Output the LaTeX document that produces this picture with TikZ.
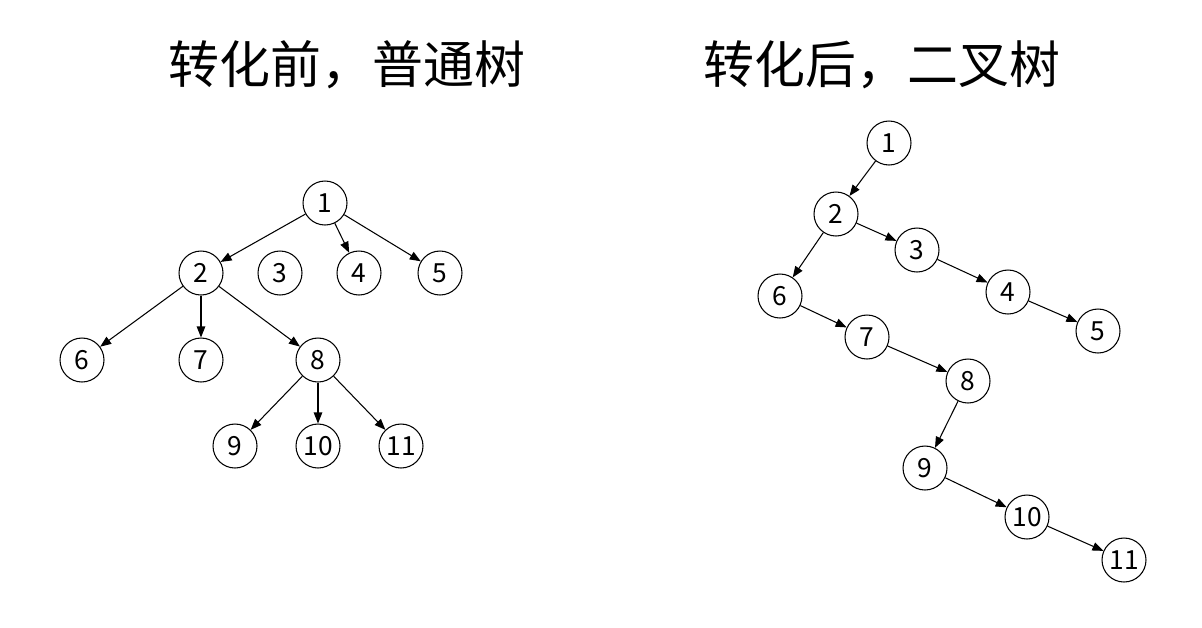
\documentclass[tikz,border=0pt]{standalone}
\usepackage{fontspec}
\setmainfont{Noto Sans CJK SC}
\newfontfamily\cjk{Noto Sans CJK SC}
\usetikzlibrary{arrows.meta}

\begin{document}
\begin{tikzpicture}[
  x=0.02cm, y=-0.02cm,
  vtx/.style={circle, draw=black, line width=0.6pt, minimum size=0.88cm,
              inner sep=0pt, font=\fontsize{15}{17}\selectfont},
  ttl/.style={font=\cjk\fontsize{29}{33}\selectfont},
  arr/.style={-{Triangle[length=2.2mm,width=1.7mm]}, line width=0.6pt, black}
]
\useasboundingbox (0,0) rectangle (1202,627);

% Titles
\node[ttl] (ltitle) at (347,65) {转化前，普通树};
\node[ttl] (rtitle) at (882,65) {转化后，二叉树};

% Ordinary tree (left)
\node[vtx] (a1)  at (325,203) {1};
\node[vtx] (a2)  at (201,273) {2};
\node[vtx] (a3)  at (280,273) {3};
\node[vtx] (a4)  at (359,273) {4};
\node[vtx] (a5)  at (440,273) {5};
\node[vtx] (a6)  at (82,360)  {6};
\node[vtx] (a7)  at (201,360) {7};
\node[vtx] (a8)  at (318,360) {8};
\node[vtx] (a9)  at (235,446) {9};
\node[vtx] (a10) at (318,446) {10};
\node[vtx] (a11) at (401,446) {11};

\draw[arr] (a1) -- (a2);
\draw[arr] (a1) -- (a4);
\draw[arr] (a1) -- (a5);
\draw[arr] (a2) -- (a6);
\draw[arr] (a2) -- (a7);
\draw[arr] (a2) -- (a8);
\draw[arr] (a8) -- (a9);
\draw[arr] (a8) -- (a10);
\draw[arr] (a8) -- (a11);

% Binary tree (right)
\node[vtx] (b1)  at (889,143)  {1};
\node[vtx] (b2)  at (836,214)  {2};
\node[vtx] (b3)  at (917,250)  {3};
\node[vtx] (b4)  at (1008,292) {4};
\node[vtx] (b5)  at (1098,331) {5};
\node[vtx] (b6)  at (780,296)  {6};
\node[vtx] (b7)  at (867,337)  {7};
\node[vtx] (b8)  at (968,381)  {8};
\node[vtx] (b9)  at (925,468)  {9};
\node[vtx] (b10) at (1027,517) {10};
\node[vtx] (b11) at (1124,560) {11};

\draw[arr] (b1) -- (b2);
\draw[arr] (b2) -- (b3);
\draw[arr] (b3) -- (b4);
\draw[arr] (b4) -- (b5);
\draw[arr] (b2) -- (b6);
\draw[arr] (b6) -- (b7);
\draw[arr] (b7) -- (b8);
\draw[arr] (b8) -- (b9);
\draw[arr] (b9) -- (b10);
\draw[arr] (b10) -- (b11);

\end{tikzpicture}
\end{document}
